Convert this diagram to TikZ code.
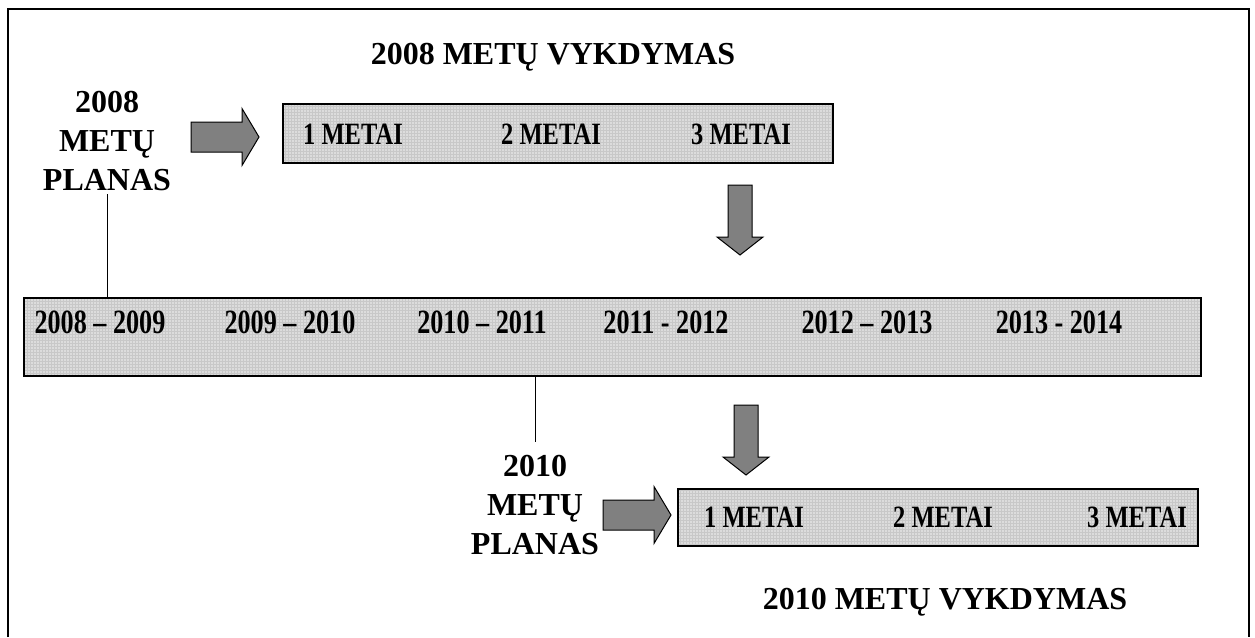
\documentclass[tikz,border=0pt]{standalone}
\usepackage{fontspec}
\setmainfont{Liberation Serif}
\newfontfamily\condfont[FakeStretch=0.77]{Liberation Serif}
\newfontfamily\metaifont[FakeStretch=0.79]{Liberation Serif}
\definecolor{boxfill}{HTML}{DCDCDC}
\definecolor{gridline}{HTML}{C8C8C8}
\definecolor{arrowfill}{HTML}{808080}
\newcommand{\bigfont}{\bfseries\fontsize{32}{39}\selectfont}
\newcommand{\periodfont}{\condfont\bfseries\fontsize{34}{36}\selectfont}
\newcommand{\smallfont}{\metaifont\bfseries\fontsize{31}{32}\selectfont}

% right block arrow, tail at (#1,#2)
\newcommand{\rightblock}[2]{%
  \draw[blockarrow] (#1pt, #2pt+15pt) -- ++(51pt,0) -- ++(0,13.5pt) -- ++(17pt,-28.5pt)
    -- ++(-17pt,-28.5pt) -- ++(0,13.5pt) -- ++(-51pt,0) -- cycle;}
% down block arrow, top at (#1,#2)
\newcommand{\downblock}[2]{%
  \draw[blockarrow] (#1pt-12pt, #2pt) -- ++(24pt,0) -- ++(0,-52pt) -- ++(11pt,0)
    -- ++(-23pt,-18pt) -- ++(-23pt,18pt) -- ++(11pt,0) -- cycle;}

\begin{document}
\begin{tikzpicture}[
    blockarrow/.style={fill=arrowfill, draw=black, line width=1pt},
    gridbox/.style={draw=black, line width=1.5pt, fill=boxfill, anchor=north west,
      inner sep=0pt,
      path picture={\draw[gridline, line width=0.3pt]
        (path picture bounding box.south west) grid[step=3pt]
        (path picture bounding box.north east);}},
    label/.style={font=\bigfont, align=center},
    period/.style={font=\periodfont},
    year/.style={font=\smallfont}
  ]
  \useasboundingbox (0,0) rectangle (1255pt,-637pt);
  \fill[white] (0,0) rectangle (1255pt,-637pt);

  % outer frame (open at the bottom)
  \draw[line width=2.5pt] (8pt,-637pt) -- (8pt,-9pt) -- (1249pt,-9pt) -- (1249pt,-637pt);

  % === 2008 PLAN ===
  \node[label] (title08) at (553pt,-57pt) {2008 METŲ VYKDYMAS};
  \node[label] (plan08) at (107pt,-141pt) {2008\\METŲ\\PLANAS};
  \rightblock{191}{-137}
  \node[gridbox, minimum width=550pt, minimum height=59pt] (exec08) at (282pt,-103pt) {};
  \node[year] (y108) at (353pt,-134pt) {1 METAI};
  \node[year] (y208) at (551pt,-134pt) {2 METAI};
  \node[year] (y308) at (741pt,-134pt) {3 METAI};
  \downblock{740}{-185}

  % === PERIODS ===
  \node[gridbox, minimum width=1177pt, minimum height=78pt] (periods) at (23pt,-297pt) {};
  \node[period] (p1) at (100pt,-322pt) {2008 – 2009};
  \node[period] (p2) at (290pt,-322pt) {2009 – 2010};
  \node[period] (p3) at (482pt,-322pt) {2010 – 2011};
  \node[period] (p4) at (666pt,-322pt) {2011 - 2012};
  \node[period] (p5) at (867pt,-322pt) {2012 – 2013};
  \node[period] (p6) at (1059pt,-322pt) {2013 - 2014};
  \draw[line width=1pt] (plan08.south) -- (plan08.south |- periods.north);

  % === 2010 PLAN ===
  \node[label] (plan10) at (535pt,-505pt) {2010\\METŲ\\PLANAS};
  \draw[line width=1pt] (plan10.north |- periods.south) -- ++(0,-65pt);
  \rightblock{603}{-515}
  \downblock{746}{-405}
  \node[gridbox, minimum width=520pt, minimum height=57pt] (exec10) at (677pt,-488pt) {};
  \node[year] (y110) at (754pt,-517pt) {1 METAI};
  \node[year] (y210) at (943pt,-517pt) {2 METAI};
  \node[year] (y310) at (1137pt,-517pt) {3 METAI};
  \node[label] (title10) at (945pt,-602pt) {2010 METŲ VYKDYMAS};
\end{tikzpicture}
\end{document}
